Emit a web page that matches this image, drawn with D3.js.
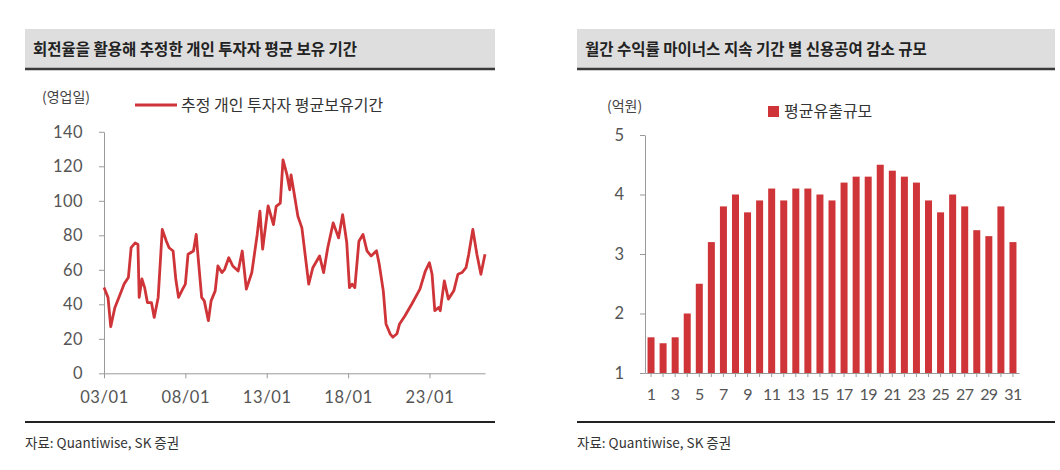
<!DOCTYPE html>
<html>
<head>
<meta charset="utf-8">
<script src="https://cdn.jsdelivr.net/npm/d3@7"></script>
<style>
  body { margin: 0; background: #fff; }
  svg { font-family: "Noto Sans CJK KR", "Noto Sans", sans-serif; }
</style>
</head>
<body>
<svg id="paper" width="1060" height="470"></svg>
<script>
// left chart: estimated holding period (business days), month offsets from 2003-01
const holdMonths = [0, 3, 5, 8, 12, 15, 18, 20, 23, 25, 26, 28, 30, 32, 35, 37, 40, 43, 46, 48,
    51, 53, 55, 58, 60, 62, 66, 68, 69, 72, 74, 77, 79, 82, 84, 87, 89, 92, 95, 99,
    102, 105, 109, 113, 115, 117, 121, 125, 127, 130, 132, 135, 137, 138, 140, 143, 146, 151, 154, 159,
    162, 165, 169, 173, 176, 179, 181, 183, 185, 188, 191, 194, 197, 201, 203, 206, 208, 211, 213, 216,
    218, 222, 227, 231, 233, 237, 240, 242, 244, 247, 248, 251, 254, 258, 261, 264, 267, 269, 272, 275,
    278, 281];
const holdValues = [49.7, 44, 27, 38, 46, 52, 55.5, 72.8, 75.6, 74.7, 44, 54.7, 49.7, 41, 41, 32.4, 44, 83.4, 76.6, 72.8,
    70.9, 54.5, 44, 48.8, 51.7, 69, 70.9, 80.5, 71, 44, 42, 30.5, 42, 47.8, 62.2, 58.4, 60.3, 67, 62.2, 59.3,
    70.9, 48.8, 58.4, 80.5, 94, 72, 97, 86.2, 96.8, 98.7, 123.7, 115, 106.4, 115, 105.4, 91, 84.3, 51.7, 61.2, 68,
    58.4, 72.8, 87.2, 78.5, 92, 76, 49.7, 51.7, 49.7, 76.6, 80.5, 71, 68, 71, 63.2, 47.8, 28.6, 22.9, 20.9, 22.9,
    28.6, 33.4, 40.2, 45.9, 48.8, 59.3, 64.1, 57.4, 36.3, 38.2, 36.3, 53.6, 43, 47.8, 57.4, 58.4, 61.2, 69, 83.4, 69,
    57.4, 69];
const holdTicks = ["03/01", "08/01", "13/01", "18/01", "23/01"];
const holdYTicks = [0, 20, 40, 60, 80, 100, 120, 140];

// right chart: average outflow (100 million KRW) by months of consecutive negative return
const runLengths = d3.range(1, 32);
const outflow = [1.6, 1.5, 1.6, 2.0, 2.5, 3.2, 3.8, 4.0, 3.7, 3.9, 4.1, 3.9, 4.1, 4.1, 4.0, 3.9,
    4.2, 4.3, 4.3, 4.5, 4.4, 4.3, 4.2, 3.9, 3.7, 4.0, 3.8, 3.4, 3.3, 3.8, 3.2];
const outflowYTicks = [1, 2, 3, 4, 5];

const red = "#cf3438";
const axisGrey = "#9a9a9a";
const svg = d3.select("#paper");

// panel frames (title bar + bottom rule + source)
function panel(x0, x1, title) {
    svg.append("rect").attr("x", x0).attr("y", 29).attr("width", x1 - x0).attr("height", 40)
        .attr("fill", "#dedede");
    svg.append("line").attr("x1", x0).attr("x2", x1).attr("y1", 69).attr("y2", 69)
        .attr("stroke", "#3a3a3a").attr("stroke-width", 2.5);
    svg.append("text").attr("x", x0 + 8).attr("y", 55).attr("font-size", 15.5)
        .attr("font-weight", "bold").attr("fill", "#222").text(title);
    svg.append("line").attr("x1", x0).attr("x2", x1).attr("y1", 422).attr("y2", 422)
        .attr("stroke", "#222").attr("stroke-width", 2);
    svg.append("text").attr("x", x0).attr("y", 448).attr("font-size", 13.5)
        .attr("fill", "#333").text("자료: Quantiwise, SK 증권");
}
panel(25, 495, "회전율을 활용해 추정한 개인 투자자 평균 보유 기간");
panel(577, 1055, "월간 수익률 마이너스 지속 기간 별 신용공여 감소 규모");

function styleAxis(g, size) {
    g.select(".domain").attr("stroke", axisGrey);
    g.selectAll(".tick line").attr("stroke", axisGrey);
    g.selectAll(".tick text").attr("fill", "#555").attr("font-size", size)
        .attr("font-family", "Lato, 'Noto Sans', sans-serif");
}

// ---- left: line chart ----
const parseMonth = m => new Date(2003, m, 1);
const x1 = d3.scaleTime()
    .domain([new Date(2003, 0, 1), parseMonth(281)])
    .range([104, 485]);
const y1 = d3.scaleLinear().domain([0, 140]).range([373.3, 131.8]);

const gx1 = svg.append("g").attr("transform", "translate(0,373.3)")
    .call(d3.axisBottom(x1)
        .tickValues(holdTicks.map((t, i) => new Date(2003 + i * 5, 0, 1)))
        .tickFormat((d, i) => holdTicks[i])
        .tickSize(5).tickSizeOuter(0).tickPadding(13));
styleAxis(gx1, 16.5);
gx1.selectAll(".tick text").attr("letter-spacing", 0.6);

const gy1 = svg.append("g").attr("transform", "translate(104,0)")
    .call(d3.axisLeft(y1).tickValues(holdYTicks).tickSize(5).tickSizeOuter(0).tickPadding(16));
styleAxis(gy1, 16.5);
gy1.selectAll(".tick text").attr("letter-spacing", 0.4);

const holdLine = d3.line()
    .x((d, i) => x1(parseMonth(holdMonths[i])))
    .y(d => y1(d));
svg.append("path").datum(holdValues)
    .attr("d", holdLine)
    .attr("fill", "none").attr("stroke", red).attr("stroke-width", 2.8)
    .attr("stroke-linejoin", "round");

svg.append("text").attr("x", 42).attr("y", 102).attr("font-size", 14).attr("fill", "#444")
    .text("(영업일)");
svg.append("line").attr("x1", 135).attr("x2", 177).attr("y1", 105).attr("y2", 105)
    .attr("stroke", red).attr("stroke-width", 2.8);
svg.append("text").attr("x", 181).attr("y", 111).attr("font-size", 16).attr("fill", "#333")
    .text("추정 개인 투자자 평균보유기간");

// ---- right: bar chart ----
const x2 = d3.scaleBand().domain(runLengths).range([645, 1019]).paddingInner(0.42).paddingOuter(0.21);
const y2 = d3.scaleLinear().domain([1, 5]).range([373, 135]);

svg.append("g").selectAll("rect")
    .data(outflow)
    .enter().append("rect")
    .attr("x", (d, i) => x2(runLengths[i]))
    .attr("y", d => y2(d))
    .attr("width", x2.bandwidth())
    .attr("height", d => y2(1) - y2(d))
    .attr("fill", red);

const gx2 = svg.append("g").attr("transform", "translate(0,373)")
    .call(d3.axisBottom(x2)
        .tickFormat(d => d % 2 === 1 ? d : "")
        .tickSize(4).tickSizeOuter(0).tickPadding(12));
styleAxis(gx2, 16);
gx2.selectAll(".tick text").attr("letter-spacing", -0.6);

const gy2 = svg.append("g").attr("transform", "translate(645,0)")
    .call(d3.axisLeft(y2).tickValues(outflowYTicks).tickFormat(d3.format("d"))
        .tickSize(5).tickSizeOuter(0).tickPadding(16));
styleAxis(gy2, 16.5);

svg.append("text").attr("x", 607).attr("y", 111).attr("font-size", 14).attr("fill", "#444")
    .text("(억원)");
svg.append("rect").attr("x", 768).attr("y", 106).attr("width", 11).attr("height", 11)
    .attr("fill", red);
svg.append("text").attr("x", 784).attr("y", 117).attr("font-size", 16).attr("fill", "#333")
    .text("평균유출규모");
</script>
</body>
</html>
